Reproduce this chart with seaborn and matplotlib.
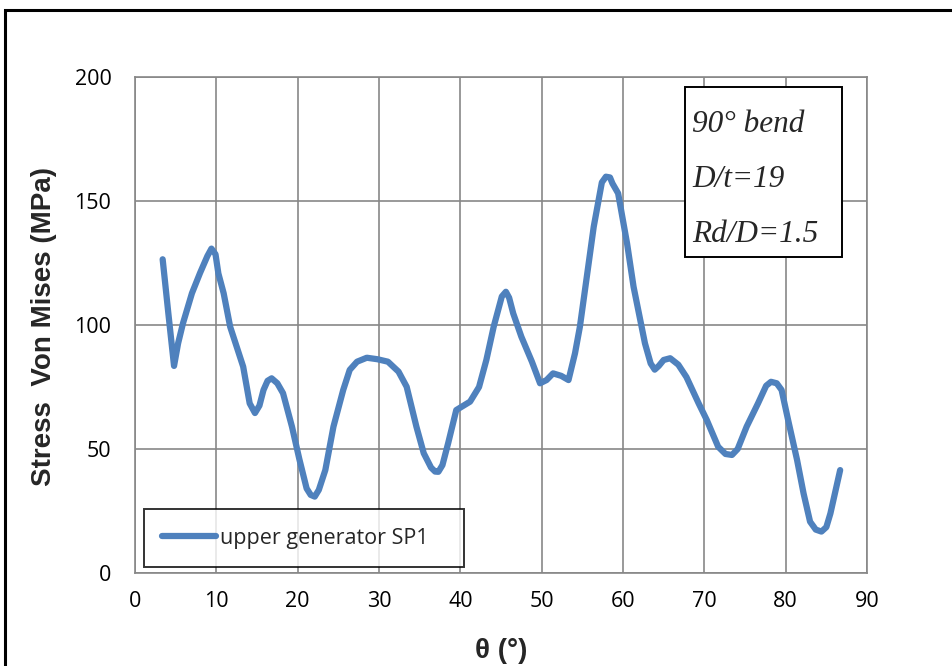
import pandas as pd
import seaborn as sns
import matplotlib.pyplot as plt
from matplotlib.patches import Rectangle

theta = [3.4, 4.1, 4.8, 5.3, 5.9, 7.0, 8.0, 8.9, 9.4, 9.9, 10.25, 10.9, 11.7, 13.3, 14.1, 14.75,
         15.3, 15.8, 16.3, 16.8, 17.5, 18.2, 19.3, 20.2, 21.1, 21.6, 22.1, 22.6, 23.4, 24.4,
         25.6, 26.4, 27.3, 28.5, 29.8, 31.1, 32.4, 33.4, 34.6, 35.5, 36.4, 36.9, 37.3, 37.8,
         38.5, 39.5, 41.2, 42.3, 43.2, 44.1, 45.1, 45.6, 46.0, 46.5, 47.5, 48.8, 49.8, 50.6,
         51.4, 52.4, 53.3, 54.1, 54.7, 56.4, 57.4, 57.9, 58.4, 58.7, 59.4, 60.5, 61.3, 62.7,
         63.4, 63.9, 64.4, 65.0, 65.8, 66.8, 67.8, 69.3, 70.3, 71.7, 72.6, 73.4, 74.1, 75.2,
         76.6, 77.6, 78.2, 78.9, 79.5, 80.3, 81.4, 82.2, 83.0, 83.7, 84.4, 85.0, 85.5, 86.7]
stress = [126.5, 104.7, 83.5, 92.6, 100.7, 112.8, 121.0, 127.8, 130.8, 128.5, 120.8, 112.8, 99.3, 83.2, 68.4, 64.5,
          67.5, 73.8, 77.5, 78.5, 76.5, 72.5, 59.0, 46.0, 34.1, 31.5, 30.8, 33.5, 41.5, 59.0,
          73.8, 81.9, 85.2, 86.8, 86.2, 85.2, 81.2, 75.1, 59.0, 48.3, 42.5, 40.9, 40.8, 43.5,
          52.3, 65.7, 69.1, 75.0, 85.9, 99.3, 111.5, 113.4, 111.0, 104.7, 95.3, 85.2, 76.5, 77.8,
          80.5, 79.5, 77.8, 88.6, 99.3, 139.6, 157.5, 159.8, 159.5, 157.1, 153.1, 132.9, 115.4, 92.6,
          84.5, 82.0, 83.5, 85.9, 86.6, 84.0, 79.0, 68.4, 61.7, 50.9, 48.0, 47.6, 50.0, 59.0,
          68.4, 75.5, 77.1, 76.5, 73.8, 61.7, 45.6, 32.1, 20.7, 17.5, 16.7, 18.5, 24.0, 41.5]
series_name = 'upper generator SP1'
note_lines = ['90° bend', 'D/t=19', 'Rd/D=1.5']
x_ticks = list(range(0, 91, 10))
y_ticks = [0, 50, 100, 150, 200]

df = pd.DataFrame({'theta': theta, 'stress': stress})

sns.set_style('white')
plt.rcParams['font.family'] = ['Open Sans', 'DejaVu Sans']

fig = plt.figure(figsize=(9.52, 6.66), dpi=100)
ax = fig.add_axes([135/952, 1 - 573/666, 732/952, 496/666])

sns.lineplot(data=df, x='theta', y='stress', ax=ax, sort=False, color='#4F81BD',
             linewidth=4.5, label=series_name, solid_joinstyle='round', zorder=3)

ax.set_xlim(0, 90)
ax.set_ylim(0, 200)
ax.set_xticks(x_ticks)
ax.set_yticks(y_ticks)
ax.grid(True, color='#878787', linewidth=1.2)
ax.set_axisbelow(True)
for s in ax.spines.values():
    s.set_color('#878787')
    s.set_linewidth(1.2)
ax.tick_params(axis='both', length=0, labelsize=15.5, colors='black')
ax.tick_params(axis='x', pad=13)
ax.tick_params(axis='y', pad=17)

ax.set_xlabel('θ (°)', fontsize=20, fontweight='bold', family=['Liberation Sans', 'DejaVu Sans'])
ax.set_ylabel('Stress  Von Mises (MPa)', fontsize=20, fontweight='bold', family=['Liberation Sans', 'DejaVu Sans'])
ax.xaxis.set_label_coords(0.5, -0.132)
ax.yaxis.set_label_coords(-0.107, 0.497)

leg = ax.legend(loc='lower left', bbox_to_anchor=(0.0123, 0.0121, 0.437, 0.13), mode='expand',
                fontsize=15.5, frameon=True, fancybox=False, borderpad=0.85,
                handlelength=2.5, handletextpad=0.2, borderaxespad=0)
leg.get_frame().set_edgecolor('black')
leg.get_frame().set_linewidth(1.4)
leg.set_zorder(5)

# annotation box
ax.add_patch(Rectangle((0.7514, 0.637), 0.2144, 0.3428, transform=ax.transAxes,
                       facecolor='white', edgecolor='black', linewidth=1.4, zorder=4))
for txt, yy in zip(note_lines, [0.8897, 0.7788, 0.668]):
    ax.text(0.761, yy, txt, transform=ax.transAxes, fontsize=22.5, style='italic',
            family='Liberation Serif', va='baseline', ha='left', zorder=6)

# outer chart border
fig.patches.append(Rectangle((5/952, -0.1), 1.2, 1 - 10/666 + 0.1, transform=fig.transFigure,
                             fill=False, edgecolor='black', linewidth=2.2))

fig.savefig('out.png', dpi=100)
